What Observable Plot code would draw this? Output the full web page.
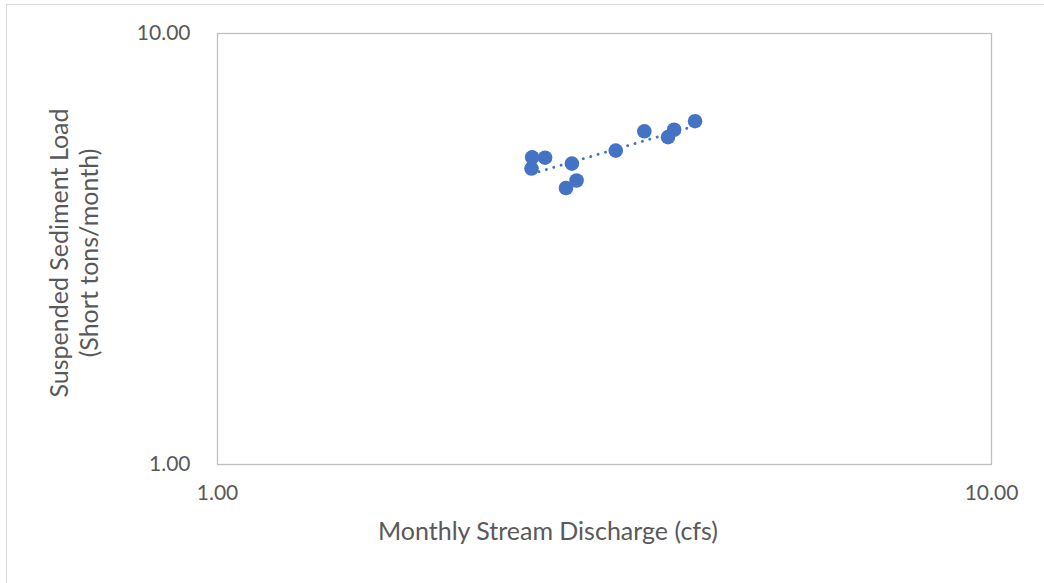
<!DOCTYPE html>
<html>
<head>
<meta charset="utf-8">
<script src="https://cdn.jsdelivr.net/npm/d3@7"></script>
<script src="https://cdn.jsdelivr.net/npm/@observablehq/plot@0.6"></script>
<style>
  html, body { margin: 0; padding: 0; background: #fff; overflow: hidden; }
  #wrap { position: relative; width: 1044px; height: 583px; }
  #border { position: absolute; left: 6px; top: 4px; width: 1100px; height: 700px;
            border-left: 1px solid #d9d9d9; border-top: 1px solid #d9d9d9; box-sizing: border-box; }
  #chart { position: absolute; left: 0; top: 0; }
</style>
</head>
<body>
<div id="wrap">
  <div id="border"></div>
  <div id="chart"></div>
</div>
<script>
// Monthly stream discharge (cfs) vs suspended sediment load (short tons/month)
const discharge = [2.55, 2.65, 2.545, 2.87, 2.91, 2.82, 3.27, 3.56, 3.89, 3.82, 4.14];
const sediment  = [5.16, 5.15, 4.86, 4.99, 4.56, 4.38, 5.35, 5.93, 5.98, 5.75, 6.26];
const xTicks = [1, 10];
const yTicks = [1, 10];
const xTitle = "Monthly Stream Discharge (cfs)";
const yTitle = ["Suspended Sediment Load", "(Short tons/month)"];

const points = discharge.map((d, i) => ({q: d, s: sediment[i]}));

// Power trendline: least squares in log-log space
const lx = discharge.map(Math.log10), ly = sediment.map(Math.log10);
const mx = d3.mean(lx), my = d3.mean(ly);
const b = d3.sum(lx, (v, i) => (v - mx) * (ly[i] - my)) / d3.sum(lx, v => (v - mx) ** 2);
const a = my - b * mx;
const [x0, x1] = d3.extent(discharge);
const trend = [x0, x1].map(q => ({q, s: Math.pow(10, a) * Math.pow(q, b)}));

const blue = "#4472c4";
const font = "Lato, 'Open Sans', sans-serif";

const plot = Plot.plot({
  width: 1044,
  height: 583,
  marginLeft: 217,
  marginRight: 53,
  marginTop: 33,
  marginBottom: 119,
  style: {fontFamily: font, background: "transparent"},
  x: {type: "log", domain: [1, 10]},
  y: {type: "log", domain: [1, 10]},
  marks: [
    Plot.frame({stroke: "#bfbfbf", strokeWidth: 1.3}),
    Plot.axisX({ticks: xTicks, tickFormat: d => d.toFixed(2), tickSize: 0, tickPadding: 21,
                fontSize: 21, fill: "#595959", label: null}),
    Plot.axisY({ticks: yTicks, tickFormat: d => d.toFixed(2), tickSize: 0, tickPadding: 27,
                fontSize: 21, fill: "#595959", label: null}),
    Plot.line(trend, {x: "q", y: "s", stroke: blue, strokeWidth: 2.9,
                      strokeDasharray: "0.1 7.6", strokeLinecap: "round"}),
    Plot.dot(points, {x: "q", y: "s", r: 7.3, fill: blue, stroke: null})
  ]
});

const svg = d3.select(plot);
svg.append("text")
  .attr("x", 548).attr("y", 530)
  .attr("text-anchor", "middle").attr("dominant-baseline", "central")
  .attr("font-family", font).attr("font-size", 25).attr("fill", "#595959")
  .text(xTitle);
yTitle.forEach((t, i) => {
  svg.append("text")
    .attr("transform", `translate(${58 + i * 30},253) rotate(-90)`)
    .attr("text-anchor", "middle").attr("dominant-baseline", "central")
    .attr("font-family", font).attr("font-size", 25).attr("fill", "#595959")
    .text(t);
});

document.getElementById("chart").appendChild(plot);
</script>
</body>
</html>
